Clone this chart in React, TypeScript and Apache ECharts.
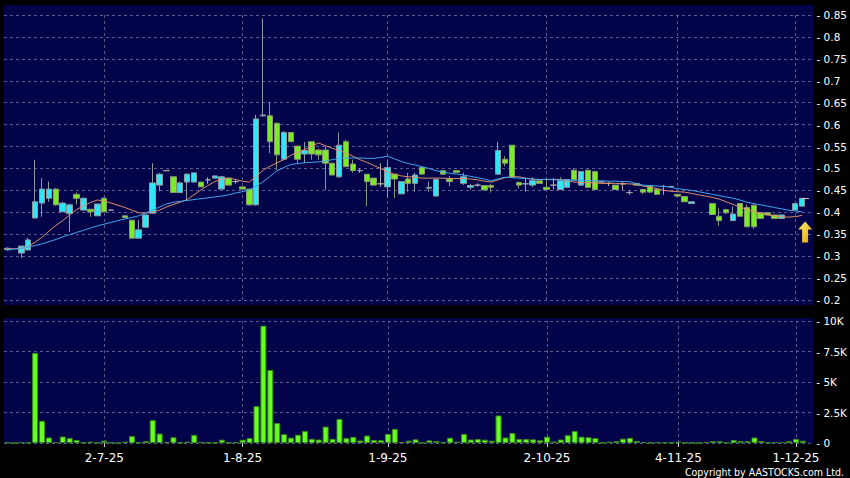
import React, { useEffect, useRef } from 'react';
import * as echarts from 'echarts';

// ---------- data ----------
const N = 117;
const categories: string[] = Array.from({ length: N }, (_, i) => String(i));
const tickLabels: Record<number, string> = {
  14: '2-7-25',
  34: '1-8-25',
  55: '1-9-25',
  78: '2-10-25',
  97: '4-11-25',
  114: '1-12-25',
};
const priceTicks = { min: 0.2, max: 0.85, step: 0.05 };
const volumeTicks = { min: 0, max: 10000, step: 2500 };

// [open, close, low, high]
const ohlc: (number[] | null)[] = [
  [0.315, 0.318, 0.312, 0.32], null, [0.307, 0.323, 0.296, 0.323], [0.314, 0.337, 0.314, 0.342],
  [0.387, 0.424, 0.386, 0.52], [0.421, 0.453, 0.39, 0.478], [0.432, 0.453, 0.424, 0.47], [0.453, 0.417, 0.415, 0.455],
  [0.401, 0.421, 0.4, 0.424], [0.397, 0.417, 0.355, 0.42], [0.441, 0.432, 0.418, 0.445], [0.405, 0.432, 0.405, 0.434],
  [0.407, 0.401, 0.39, 0.407], [0.392, 0.419, 0.392, 0.419], [0.432, 0.401, 0.401, 0.434], [0.405, 0.405, 0.405, 0.405],
  null, [0.392, 0.388, 0.388, 0.392], [0.382, 0.341, 0.341, 0.382], [0.341, 0.36, 0.341, 0.382],
  [0.366, 0.394, 0.366, 0.394], [0.398, 0.467, 0.398, 0.512], [0.462, 0.487, 0.448, 0.49], [0.495, 0.495, 0.495, 0.495],
  [0.481, 0.445, 0.445, 0.481], [0.445, 0.467, 0.445, 0.47], [0.469, 0.487, 0.428, 0.489], [0.469, 0.49, 0.469, 0.49],
  [0.469, 0.458, 0.458, 0.469], [0.474, 0.474, 0.465, 0.48], [0.478, 0.483, 0.478, 0.483], [0.453, 0.481, 0.453, 0.483],
  [0.478, 0.462, 0.462, 0.478], [0.47, 0.47, 0.465, 0.475], [0.458, 0.453, 0.453, 0.458], [0.453, 0.417, 0.415, 0.453],
  [0.417, 0.613, 0.415, 0.622], [0.62, 0.622, 0.618, 0.842], [0.62, 0.561, 0.535, 0.652], [0.603, 0.531, 0.497, 0.605],
  [0.521, 0.582, 0.52, 0.585], [0.582, 0.561, 0.561, 0.582], [0.551, 0.521, 0.512, 0.551], [0.533, 0.541, 0.512, 0.56],
  [0.561, 0.533, 0.52, 0.561], [0.542, 0.531, 0.52, 0.545], [0.542, 0.512, 0.451, 0.55], [0.512, 0.485, 0.485, 0.512],
  [0.481, 0.553, 0.478, 0.582], [0.561, 0.504, 0.504, 0.565], [0.51, 0.495, 0.49, 0.52], [0.495, 0.495, 0.49, 0.5],
  [0.487, 0.47, 0.414, 0.487], [0.478, 0.462, 0.462, 0.478], [0.465, 0.465, 0.458, 0.512], [0.458, 0.502, 0.433, 0.519],
  [0.487, 0.476, 0.433, 0.487], [0.442, 0.47, 0.442, 0.47], [0.476, 0.466, 0.447, 0.49], [0.466, 0.485, 0.447, 0.49],
  [0.502, 0.487, 0.487, 0.502], [0.455, 0.457, 0.447, 0.47], [0.437, 0.475, 0.437, 0.478], [0.495, 0.487, 0.487, 0.495],
  [0.476, 0.47, 0.46, 0.483], [0.495, 0.491, 0.491, 0.495], [0.466, 0.481, 0.462, 0.49], [0.457, 0.461, 0.452, 0.465],
  [0.462, 0.462, 0.458, 0.466], [0.461, 0.451, 0.451, 0.461], [0.461, 0.457, 0.445, 0.465], [0.487, 0.541, 0.485, 0.561],
  [0.521, 0.512, 0.505, 0.528], [0.553, 0.48, 0.48, 0.553], [0.468, 0.462, 0.455, 0.47], [0.465, 0.465, 0.447, 0.478],
  [0.462, 0.472, 0.458, 0.48], [0.472, 0.466, 0.466, 0.472], [0.457, 0.452, 0.452, 0.478], [0.462, 0.462, 0.452, 0.478],
  [0.452, 0.472, 0.452, 0.48], [0.457, 0.475, 0.457, 0.475], [0.496, 0.474, 0.474, 0.5], [0.462, 0.493, 0.462, 0.493],
  [0.496, 0.457, 0.457, 0.496], [0.493, 0.452, 0.452, 0.493], [0.469, 0.469, 0.469, 0.469], [0.466, 0.466, 0.46, 0.47],
  [0.462, 0.452, 0.452, 0.462], [0.465, 0.465, 0.451, 0.47], [0.445, 0.445, 0.44, 0.45], [0.466, 0.462, 0.462, 0.466],
  [0.452, 0.446, 0.441, 0.453], [0.46, 0.446, 0.446, 0.46], [0.452, 0.441, 0.441, 0.452], [0.459, 0.459, 0.44, 0.462],
  [0.459, 0.459, 0.459, 0.459], [0.441, 0.437, 0.437, 0.441], [0.436, 0.424, 0.424, 0.436], [0.42, 0.424, 0.42, 0.424],
  null, null, [0.42, 0.395, 0.395, 0.42], [0.391, 0.381, 0.369, 0.41],
  [0.406, 0.399, 0.396, 0.408], [0.381, 0.396, 0.381, 0.413], [0.42, 0.391, 0.391, 0.42], [0.411, 0.367, 0.367, 0.418],
  [0.416, 0.367, 0.362, 0.42], [0.399, 0.386, 0.386, 0.399], [0.399, 0.394, 0.394, 0.399], [0.394, 0.386, 0.386, 0.394],
  [0.386, 0.394, 0.386, 0.394], null, [0.405, 0.42, 0.405, 0.42], [0.414, 0.432, 0.414, 0.432],
  null,
];

const volume: (number | null)[] = [
  54, 0, 82, 25, 7390, 1820, 450, 82, 530, 400, 245, 25, 110, 25, 190, 30,
  0, 109, 560, 54, 163, 1876, 775, 82, 475, 30, 109, 665, 82, 30, 30, 272,
  30, 54, 272, 408, 3020, 9620, 5980, 1630, 720, 435, 680, 980, 340, 285, 1345, 340,
  1970, 395, 505, 205, 612, 245, 230, 748, 1155, 82, 190, 300, 30, 218, 163, 54,
  435, 109, 734, 286, 326, 272, 190, 2256, 450, 816, 326, 326, 300, 218, 517, 122,
  286, 640, 980, 517, 476, 408, 30, 109, 150, 353, 420, 163, 82, 30, 82, 30,
  30, 109, 30, 30, 0, 82, 150, 150, 30, 245, 163, 163, 450, 163, 30, 82,
  82, 150, 340, 190, null,
];

const maShort: (number | null)[] = [
  0.316, 0.317, 0.318, 0.322, 0.332, 0.343, 0.357, 0.37, 0.381, 0.394, 0.406, 0.415, 0.422, 0.428, 0.426, 0.421,
  0.416, 0.411, 0.405, 0.399, 0.398, 0.401, 0.405, 0.412, 0.418, 0.423, 0.429, 0.44, 0.451, 0.461, 0.47, 0.476,
  0.478, 0.475, 0.471, 0.469, 0.482, 0.496, 0.505, 0.513, 0.52, 0.53, 0.537, 0.543, 0.551, 0.558, 0.552, 0.546,
  0.541, 0.535, 0.528, 0.52, 0.514, 0.507, 0.5, 0.492, 0.487, 0.483, 0.481, 0.48, 0.478, 0.478, 0.478, 0.478,
  0.477, 0.477, 0.477, 0.476, 0.474, 0.471, 0.469, 0.474, 0.479, 0.481, 0.481, 0.478, 0.475, 0.475, 0.475, 0.475,
  0.475, 0.472, 0.469, 0.468, 0.467, 0.467, 0.466, 0.466, 0.466, 0.465, 0.465, 0.463, 0.46, 0.457, 0.454, 0.45,
  0.448, 0.447, 0.446, 0.443, 0.44, 0.437, 0.434, 0.43, 0.424, 0.418, 0.412, 0.407, 0.402, 0.398, 0.394, 0.392,
  0.39, 0.389, 0.39, 0.393, null,
];

const maLong: (number | null)[] = [
  0.314, 0.316, 0.318, 0.321, 0.324, 0.328, 0.333, 0.338, 0.344, 0.349, 0.354, 0.359, 0.364, 0.369, 0.373, 0.377,
  0.381, 0.385, 0.388, 0.392, 0.398, 0.405, 0.412, 0.419, 0.423, 0.425, 0.427, 0.429, 0.431, 0.433, 0.435, 0.437,
  0.44, 0.444, 0.447, 0.451, 0.46, 0.47, 0.482, 0.495, 0.502, 0.509, 0.511, 0.513, 0.514, 0.515, 0.517, 0.52,
  0.523, 0.524, 0.524, 0.524, 0.523, 0.523, 0.525, 0.528, 0.522, 0.516, 0.511, 0.508, 0.504, 0.5, 0.495, 0.492,
  0.489, 0.487, 0.485, 0.482, 0.479, 0.476, 0.472, 0.476, 0.48, 0.479, 0.478, 0.477, 0.476, 0.475, 0.475, 0.474,
  0.474, 0.474, 0.473, 0.473, 0.472, 0.472, 0.472, 0.471, 0.471, 0.47, 0.47, 0.465, 0.462, 0.461, 0.46, 0.459,
  0.457, 0.454, 0.452, 0.45, 0.447, 0.444, 0.441, 0.438, 0.435, 0.432, 0.428, 0.423, 0.42, 0.417, 0.414, 0.411,
  0.408, 0.405, 0.403, 0.401, null,
];

const lastPrice = 0.432;
const arrowAt = { index: 115, value: 0.355 };

// ---------- styles ----------
const NAVY = '#03034a';
const GRID_LINE = '#5a5a92';
const FONT = "'DejaVu Sans', Verdana, sans-serif";

export default function App() {
  const ref = useRef<HTMLDivElement>(null);

  useEffect(() => {
    if (!ref.current) return;
    const chart = echarts.init(ref.current, undefined, { renderer: 'svg' });
    const tickIdx = Object.keys(tickLabels).map(Number);
    const isTick = (i: number) => tickIdx.includes(i);
    const vLines = tickIdx.map((i) => ({ xAxis: i }));

    const option: any = {
      animation: false,
      backgroundColor: '#000000',
      graphic: [
        { type: 'rect', z: -100, shape: { x: 4, y: 5, width: 810, height: 300 }, style: { fill: NAVY } },
        { type: 'rect', z: -100, shape: { x: 4, y: 318, width: 810, height: 125 }, style: { fill: NAVY } },
        {
          type: 'text',
          right: 6,
          top: 466,
          style: {
            text: 'Copyright by AASTOCKS.com Ltd.',
            fill: '#ffffff',
            font: "10.5px 'DejaVu Sans Condensed', 'DejaVu Sans', sans-serif",
            lineHeight: 11,
          },
        },
      ],
      grid: [
        { left: 4, width: 810, top: 15, height: 285 },
        { left: 4, width: 810, top: 321, height: 122 },
      ],
      xAxis: [
        {
          type: 'category',
          gridIndex: 0,
          data: categories,
          boundaryGap: true,
          axisLine: { show: false },
          axisTick: { show: false },
          axisLabel: { show: false },
          splitLine: { show: false },
        },
        {
          type: 'category',
          gridIndex: 1,
          data: categories,
          boundaryGap: true,
          axisLine: { show: false },
          axisTick: {
            show: true,
            alignWithLabel: true,
            length: 4,
            interval: (i: number) => isTick(i),
            lineStyle: { color: '#cccccc' },
          },
          axisLabel: {
            interval: (i: number) => isTick(i),
            formatter: (_v: string, i: number) => tickLabels[i] ?? '',
            color: '#ffffff',
            fontSize: 12,
            lineHeight: 12,
            fontFamily: FONT,
            margin: 9,
          },
          splitLine: { show: false },
        },
      ],
      yAxis: [
        {
          type: 'value',
          gridIndex: 0,
          position: 'right',
          min: priceTicks.min,
          max: priceTicks.max,
          interval: priceTicks.step,
          axisLine: { show: false },
          axisTick: { show: false },
          axisLabel: {
            formatter: (v: number) => '- ' + String(Math.round(v * 100) / 100),
            color: '#ffffff',
            fontSize: 10.5,
            fontFamily: FONT,
            margin: 4,
          },
          splitLine: { show: true, lineStyle: { color: GRID_LINE, type: [3, 3], width: 1 } },
        },
        {
          type: 'value',
          gridIndex: 1,
          position: 'right',
          min: volumeTicks.min,
          max: volumeTicks.max,
          interval: volumeTicks.step,
          axisLine: { show: false },
          axisTick: { show: false },
          axisLabel: {
            formatter: (v: number) => (v === 0 ? '- 0' : '- ' + v / 1000 + 'K'),
            color: '#ffffff',
            fontSize: 10.5,
            fontFamily: FONT,
            margin: 3,
          },
          splitLine: { show: true, lineStyle: { color: GRID_LINE, type: [3, 3], width: 1 } },
        },
      ],
      series: [
        {
          type: 'candlestick',
          xAxisIndex: 0,
          yAxisIndex: 0,
          z: 3,
          barWidth: 6,
          data: ohlc.map((d) => (d ? d : '-')),
          itemStyle: {
            color: '#2ee6f6',
            color0: '#7aec24',
            borderColor: '#8e9aa0',
            borderColor0: '#8a9a70',
            borderColorDoji: '#a8a8a8',
            borderWidth: 1,
          },
          markLine: {
            silent: true,
            symbol: ['none', 'none'],
            label: { show: false },
            lineStyle: { color: '#c8c8c8', type: 'solid', width: 1 },
            data: [[{ coord: [115, lastPrice] }, { coord: [116, lastPrice] }]],
          },
          markPoint: {
            silent: true,
            label: { show: false },
            data: [
              {
                coord: [arrowAt.index, arrowAt.value],
                symbol: 'path://M7,0 L14,8 L10,8 L10,21 L4,21 L4,8 L0,8 Z',
                symbolSize: [14, 21],
                symbolOffset: [3, 0],
                itemStyle: {
                  color: new echarts.graphic.LinearGradient(0, 0, 1, 1, [
                    { offset: 0, color: '#fff27a' },
                    { offset: 1, color: '#e5a100' },
                  ]),
                },
              },
            ],
          },
        },
        {
          type: 'line',
          xAxisIndex: 0,
          yAxisIndex: 0,
          z: 4,
          data: maShort,
          showSymbol: false,
          symbol: 'none',
          lineStyle: { color: '#e08f6a', width: 1 },
          markLine: {
            silent: true,
            z: 1,
            symbol: ['none', 'none'],
            label: { show: false },
            lineStyle: { color: GRID_LINE, type: [3, 3], width: 1 },
            data: vLines,
          },
        },
        {
          type: 'line',
          xAxisIndex: 0,
          yAxisIndex: 0,
          z: 4,
          data: maLong,
          showSymbol: false,
          symbol: 'none',
          lineStyle: { color: '#3ea6ee', width: 1 },
        },
        {
          type: 'bar',
          xAxisIndex: 1,
          yAxisIndex: 1,
          barWidth: 6,
          data: volume.map((v) => (v == null ? '-' : v)),
          itemStyle: { color: '#66ff22', borderColor: '#3a8c18', borderWidth: 1 },
          markLine: {
            silent: true,
            z: 1,
            symbol: ['none', 'none'],
            label: { show: false },
            lineStyle: { color: GRID_LINE, type: [3, 3], width: 1 },
            data: vLines,
          },
        },
      ],
    };

    chart.setOption(option);
    return () => chart.dispose();
  }, []);

  return <div ref={ref} style={{ width: 850, height: 478, position: 'absolute', left: 0, top: 0 }} />;
}
